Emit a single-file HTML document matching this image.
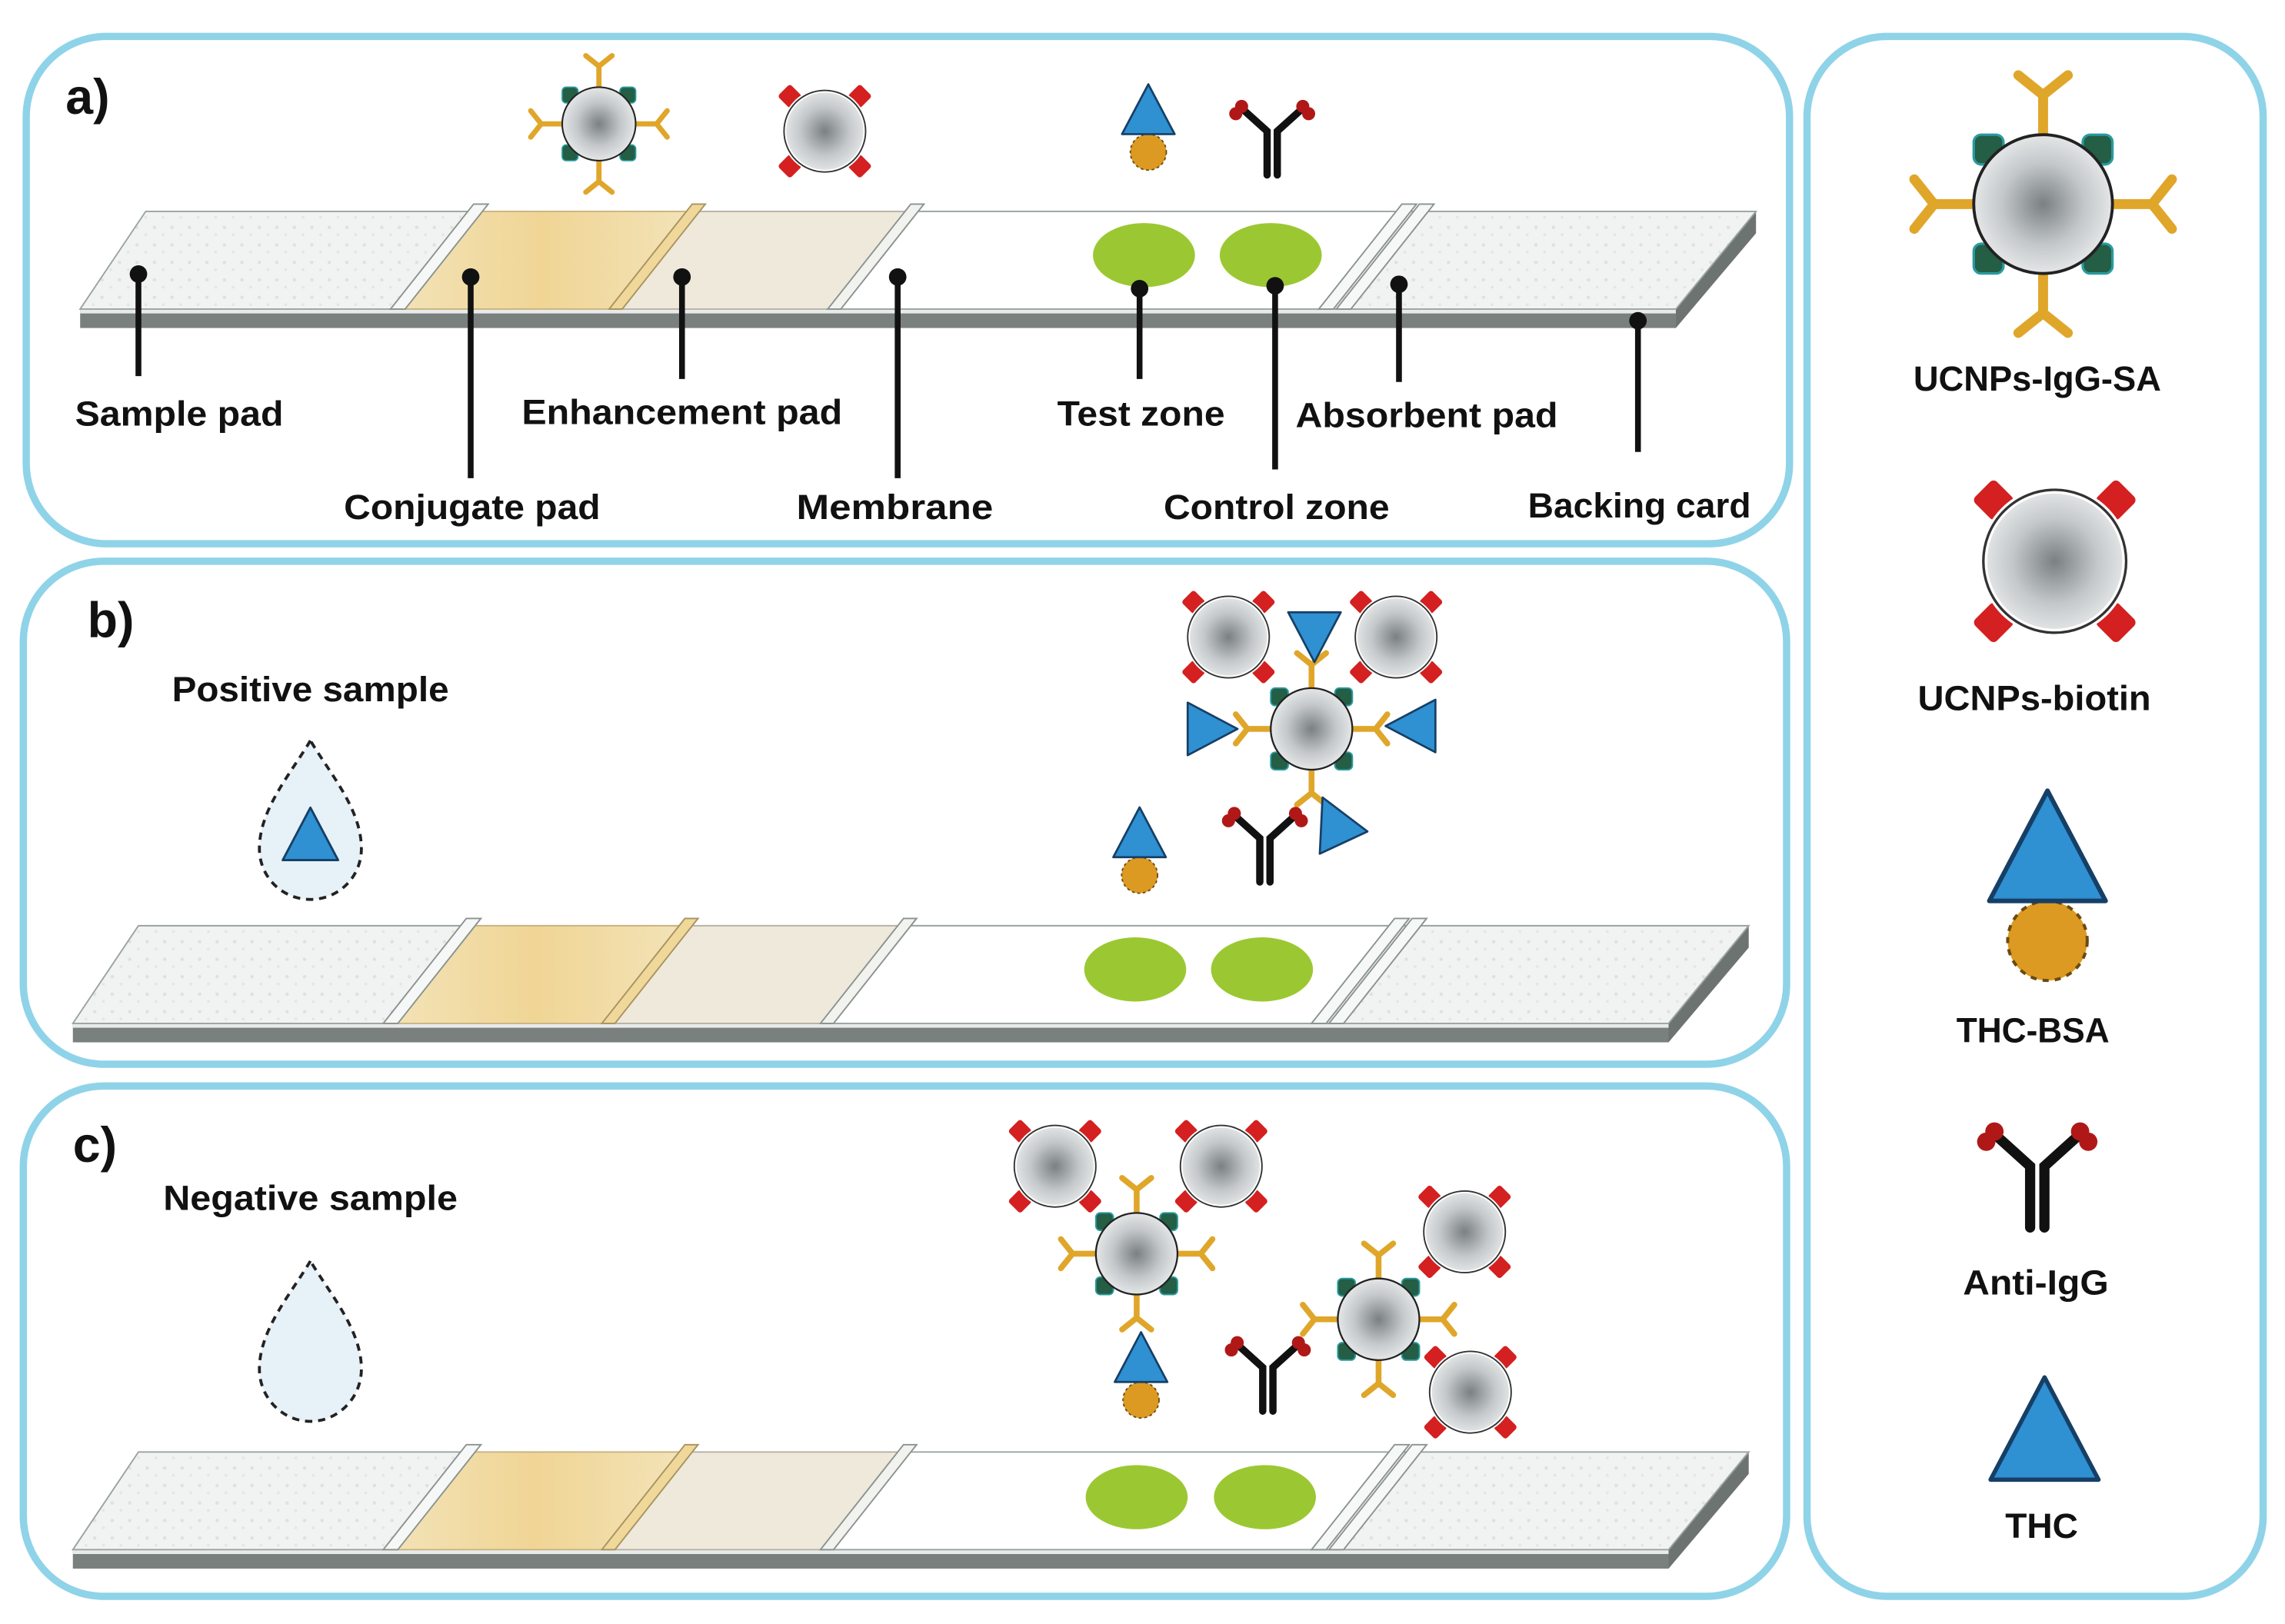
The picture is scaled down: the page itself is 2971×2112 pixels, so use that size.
<!DOCTYPE html>
<html><head><meta charset="utf-8"><style>
html,body{margin:0;padding:0;background:#fff}
svg{display:block}
text{font-family:"Liberation Sans",sans-serif;font-weight:bold;fill:#111}
</style></head><body>
<svg width="2971" height="2112" viewBox="0 0 1568 1114" preserveAspectRatio="none" xmlns="http://www.w3.org/2000/svg">
<defs>
<radialGradient id="gg" cx="50%" cy="50%" r="50%">
<stop offset="0" stop-color="#7a8083"/><stop offset="0.6" stop-color="#c4c8ca"/><stop offset="1" stop-color="#e4e6e7"/>
</radialGradient>
<pattern id="spk" width="12" height="12" patternUnits="userSpaceOnUse">
<rect width="12" height="12" fill="#f1f3f2"/><circle cx="3" cy="4" r="1.2" fill="#dde2e0"/><circle cx="9" cy="9" r="1" fill="#e2e6e4"/>
</pattern>
<linearGradient id="conj" x1="0" x2="1" y1="0" y2="0">
<stop offset="0" stop-color="#f3e3b8"/><stop offset="0.5" stop-color="#f0d595"/><stop offset="1" stop-color="#f3e3b8"/>
</linearGradient>
<g id="arm"><path d="M27 0H44M44 0L52 -10M44 0L52 10" stroke="#e0a62a" stroke-width="4" fill="none" stroke-linecap="round"/></g>
<g id="sq"><rect x="-6" y="-6" width="12" height="12" rx="3" fill="#235e45" stroke="#2a9aa0" stroke-width="1"/></g>
<g id="sa">
<use href="#arm" transform="rotate(0)"/><use href="#arm" transform="rotate(90)"/><use href="#arm" transform="rotate(180)"/><use href="#arm" transform="rotate(270)"/>
<use href="#sq" transform="translate(22,-22)"/><use href="#sq" transform="translate(-22,-22)"/><use href="#sq" transform="translate(22,22)"/><use href="#sq" transform="translate(-22,22)"/>
<circle r="28" fill="url(#gg)" stroke="#222" stroke-width="1.2"/>
</g>
<g id="rsq"><rect x="-6" y="-6" width="12" height="12" rx="2" fill="#d42020"/></g>
<g id="bio">
<use href="#rsq" transform="translate(24,-24) rotate(45)"/><use href="#rsq" transform="translate(-24,-24) rotate(45)"/><use href="#rsq" transform="translate(24,24) rotate(45)"/><use href="#rsq" transform="translate(-24,24) rotate(45)"/>
<circle r="28" fill="url(#gg)" stroke="#fff" stroke-width="3"/>
<circle r="28" fill="none" stroke="#333" stroke-width="1"/>
</g>
<g id="tri"><path d="M0 -36L19 0H-19Z" fill="#2f90d2" stroke="#163f66" stroke-width="1.5" stroke-linejoin="round"/></g>
<g id="tb"><circle cx="0" cy="13" r="13" fill="#dc9a22" stroke="#6a4a10" stroke-width="1" stroke-dasharray="2 2"/><use href="#tri"/></g>
<g id="ab">
<path d="M-3.5 30V0L-19 -14M3.5 30V0L19 -14" stroke="#111" stroke-width="5" fill="none" stroke-linecap="round"/>
<circle cx="-21" cy="-17" r="4.5" fill="#b01818"/><circle cx="-25" cy="-12" r="4.5" fill="#b01818"/>
<circle cx="21" cy="-17" r="4.5" fill="#b01818"/><circle cx="25" cy="-12" r="4.5" fill="#b01818"/>
</g>
<g id="strip">
<polygon points="1095,0 1150,-67 1150,-52 1095,13" fill="#6d7371"/>
<rect x="0" y="0" width="1095" height="13" fill="#7a807e"/>
<rect x="0" y="0" width="1095" height="3" fill="#e8ebea"/>
<polygon points="0,0 45,-67 270,-67 215,0" fill="url(#spk)" stroke="#9aa3a0" stroke-width="1"/>
<polygon points="215,0 270,-67 420,-67 365,0" fill="url(#conj)" stroke="#c9b480" stroke-width="1"/>
<polygon points="365,0 420,-67 570,-67 515,0" fill="#efe9dc" stroke="#b8b2a6" stroke-width="1"/>
<polygon points="515,0 570,-67 905,-67 850,0" fill="#fff" stroke="#9aa3a0" stroke-width="1"/>
<polygon points="850,0 905,-67 1150,-67 1095,0" fill="url(#spk)" stroke="#9aa3a0" stroke-width="1"/>
<polygon points="213,0 223,0 280,-72 270,-72" fill="#f6f8f7" stroke="#8a9390" stroke-width="1"/>
<polygon points="363,0 372,0 429,-72 420,-72" fill="#f0d89a" stroke="#a89360" stroke-width="1"/>
<polygon points="513,0 522,0 579,-72 570,-72" fill="#f2f2ef" stroke="#8a9390" stroke-width="1"/>
<polygon points="850,0 860,0 917,-72 907,-72" fill="#f6f8f7" stroke="#8a9390" stroke-width="1"/>
<polygon points="862,0 872,0 929,-72 919,-72" fill="#f6f8f7" stroke="#8a9390" stroke-width="1"/>
</g>
<g id="pin"><circle r="6" fill="#111"/></g>
</defs>

<g fill="none" stroke="#8fd3e8" stroke-width="5">
<rect x="18" y="25" width="1210" height="348" rx="55"/>
<rect x="16" y="385" width="1210" height="345" rx="55"/>
<rect x="16" y="745" width="1210" height="350" rx="55"/>
<rect x="1240" y="25" width="313" height="1070" rx="55"/>
</g>

<!-- panel a -->
<use href="#strip" transform="translate(55,212)"/>
<ellipse cx="785" cy="175" rx="35" ry="22" fill="#9bc832"/>
<ellipse cx="872" cy="175" rx="35" ry="22" fill="#9bc832"/>
<g stroke="#111" stroke-width="4">
<line x1="95" y1="188" x2="95" y2="258"/><line x1="323" y1="190" x2="323" y2="328"/>
<line x1="468" y1="190" x2="468" y2="260"/><line x1="616" y1="190" x2="616" y2="328"/>
<line x1="782" y1="198" x2="782" y2="260"/><line x1="875" y1="196" x2="875" y2="322"/>
<line x1="960" y1="195" x2="960" y2="262"/><line x1="1124" y1="220" x2="1124" y2="310"/>
</g>
<use href="#pin" x="95" y="188"/><use href="#pin" x="323" y="190"/><use href="#pin" x="468" y="190"/><use href="#pin" x="616" y="190"/>
<use href="#pin" x="782" y="198"/><use href="#pin" x="875" y="196"/><use href="#pin" x="960" y="195"/><use href="#pin" x="1124" y="220"/>
<use href="#sa" transform="translate(411,85) scale(0.9)"/>
<use href="#bio" transform="translate(566,90) scale(1)"/>
<use href="#tb" transform="translate(788,92) scale(0.95)"/>
<use href="#ab" transform="translate(873,90)"/>
<text x="45" y="78" font-size="34">a)</text>
<g font-size="24" text-anchor="middle">
<text x="123" y="292" textLength="143" lengthAdjust="spacingAndGlyphs">Sample pad</text>
<text x="468" y="291" textLength="220" lengthAdjust="spacingAndGlyphs">Enhancement pad</text>
<text x="783" y="292" textLength="115" lengthAdjust="spacingAndGlyphs">Test zone</text>
<text x="979" y="293" textLength="180" lengthAdjust="spacingAndGlyphs">Absorbent pad</text>
<text x="324" y="356" textLength="176" lengthAdjust="spacingAndGlyphs">Conjugate pad</text>
<text x="614" y="356" textLength="135" lengthAdjust="spacingAndGlyphs">Membrane</text>
<text x="876" y="356" textLength="155" lengthAdjust="spacingAndGlyphs">Control zone</text>
<text x="1125" y="355" textLength="153" lengthAdjust="spacingAndGlyphs">Backing card</text>
</g>

<!-- panel b -->
<use href="#strip" transform="translate(50,702)"/>
<ellipse cx="779" cy="665" rx="35" ry="22" fill="#9bc832"/>
<ellipse cx="866" cy="665" rx="35" ry="22" fill="#9bc832"/>
<text x="60" y="437" font-size="34">b)</text>
<text x="213" y="481" font-size="24" text-anchor="middle" textLength="190" lengthAdjust="spacingAndGlyphs">Positive sample</text>
<path d="M213 508C200 530 178 555 178 582C178 602 194 617 213 617C232 617 248 602 248 582C248 555 226 530 213 508Z" fill="#e6f1f8" stroke="#222" stroke-width="2" stroke-dasharray="5 4"/>
<use href="#tri" transform="translate(213,590) scale(1)"/>
<use href="#sa" transform="translate(900,500) scale(1)"/>
<use href="#bio" transform="translate(843,437) scale(1)"/>
<use href="#bio" transform="translate(958,437) scale(1)"/>
<use href="#tri" transform="translate(902,420) rotate(180) scale(0.95)"/>
<use href="#tri" transform="translate(815,500) rotate(90) scale(0.95)"/>
<use href="#tri" transform="translate(985,498) rotate(-90) scale(0.95)"/>
<use href="#tri" transform="translate(922,578) rotate(-25) scale(0.95)"/>
<use href="#tb" transform="translate(782,588) scale(0.95)"/>
<use href="#ab" transform="translate(868,575)"/>

<!-- panel c -->
<use href="#strip" transform="translate(50,1063)"/>
<ellipse cx="780" cy="1027" rx="35" ry="22" fill="#9bc832"/>
<ellipse cx="868" cy="1027" rx="35" ry="22" fill="#9bc832"/>
<text x="50" y="797" font-size="34">c)</text>
<text x="213" y="830" font-size="24" text-anchor="middle" textLength="202" lengthAdjust="spacingAndGlyphs">Negative sample</text>
<path d="M213 865C200 887 178 912 178 939C178 959 194 975 213 975C232 975 248 959 248 939C248 912 226 887 213 865Z" fill="#e6f1f8" stroke="#222" stroke-width="2" stroke-dasharray="5 4"/>
<use href="#sa" transform="translate(780,860) scale(1)"/>
<use href="#bio" transform="translate(724,800) scale(1)"/>
<use href="#bio" transform="translate(838,800) scale(1)"/>
<use href="#tb" transform="translate(783,948) scale(0.95)"/>
<use href="#ab" transform="translate(870,938)"/>
<use href="#sa" transform="translate(946,905) scale(1)"/>
<use href="#bio" transform="translate(1005,845) scale(1)"/>
<use href="#bio" transform="translate(1009,955) scale(1)"/>

<!-- legend -->
<use href="#sa" transform="translate(1402,140) scale(1.7)"/>
<use href="#bio" transform="translate(1410,385) scale(1.75)"/>
<use href="#tb" transform="translate(1405,618) scale(2.1)"/>
<use href="#ab" transform="translate(1398,800) scale(1.4)"/>
<use href="#tri" transform="translate(1403,1015) scale(1.95)"/>
<g font-size="24" text-anchor="middle">
<text x="1398" y="268" textLength="170" lengthAdjust="spacingAndGlyphs">UCNPs-IgG-SA</text>
<text x="1396" y="487" textLength="160" lengthAdjust="spacingAndGlyphs">UCNPs-biotin</text>
<text x="1395" y="715" textLength="105" lengthAdjust="spacingAndGlyphs">THC-BSA</text>
<text x="1397" y="888" textLength="100" lengthAdjust="spacingAndGlyphs">Anti-IgG</text>
<text x="1401" y="1055" textLength="50" lengthAdjust="spacingAndGlyphs">THC</text>
</g>
</svg>
</body></html>
